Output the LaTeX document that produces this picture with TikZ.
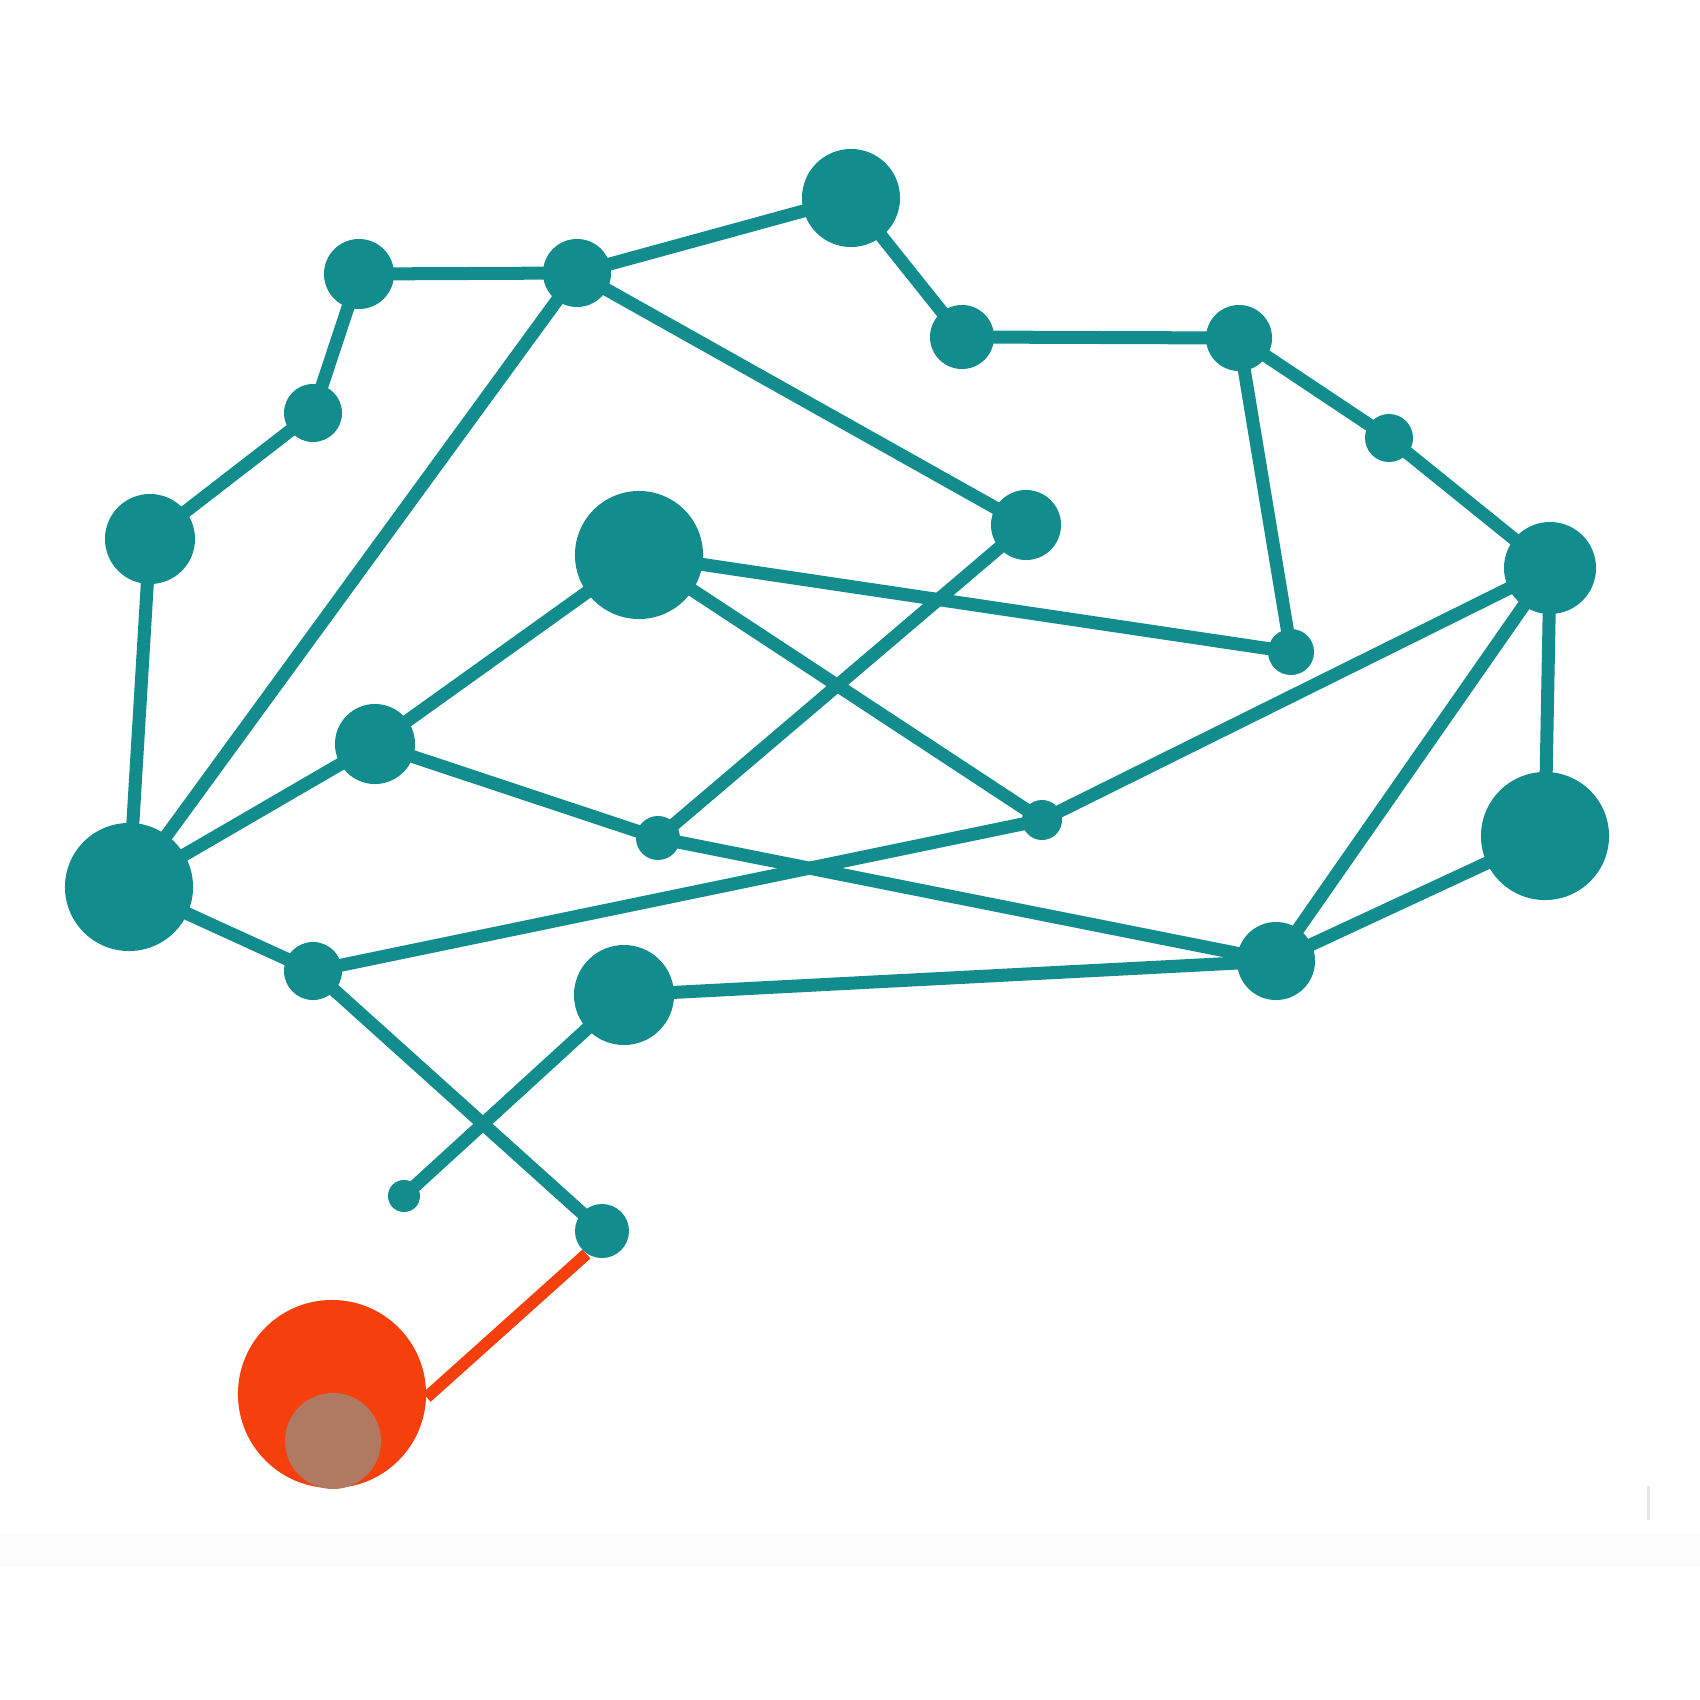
\documentclass[tikz,border=0pt]{standalone}
\usepackage{xcolor}
\usepackage{tikz}
\definecolor{brainteal}{HTML}{128C8C}
\definecolor{sparkred}{HTML}{F5400E}
\definecolor{sparkcore}{HTML}{B07A62}
\tikzset{every picture/.style={x=0.01cm,y=-0.01cm,every node/.style={circle, fill=brainteal, inner sep=0pt}}}

\begin{document}
\begin{tikzpicture}
        \useasboundingbox (0,0) rectangle (1700,1700);
        \fill[black!1] (0,1533) rectangle (1700,1567);
        \fill[black!10] (1647,1486) rectangle (1650,1520);

        \node[minimum size=0.98cm] (n1) at (851, 198) {};
        \node[minimum size=0.70cm] (n2) at (359, 274) {};
        \node[minimum size=0.68cm] (n3) at (577, 273) {};
        \node[minimum size=0.64cm] (n4) at (962, 337) {};
        \node[minimum size=0.66cm] (n5) at (1239, 338) {};
        \node[minimum size=0.58cm] (n6) at (313, 413) {};
        \node[minimum size=0.48cm] (n7) at (1389, 438) {};
        \node[minimum size=0.90cm] (n8) at (150, 539) {};
        \node[minimum size=1.28cm] (n9) at (639, 555) {};
        \node[minimum size=0.70cm] (n10) at (1026, 525) {};
        \node[minimum size=0.92cm] (n11) at (1550, 568) {};
        \node[minimum size=0.46cm] (n12) at (1291, 652) {};
        \node[minimum size=0.80cm] (n13) at (375, 744) {};
        \node[minimum size=0.44cm] (n14) at (658, 838) {};
        \node[minimum size=0.40cm] (n15) at (1042, 820) {};
        \node[minimum size=1.28cm] (n16) at (1545, 836) {};
        \node[minimum size=1.28cm] (n17) at (129, 887) {};
        \node[minimum size=0.58cm] (n18) at (313, 971) {};
        \node[minimum size=1.00cm] (n19) at (624, 995) {};
        \node[minimum size=0.78cm] (n20) at (1276, 961) {};
        \node[minimum size=0.32cm] (n21) at (404, 1196) {};
        \node[minimum size=0.54cm] (n22) at (602, 1231) {};

        \foreach \from/\to in {
          n2/n3, n3/n1, n1/n4, n4/n5,
          n5/n7, n7/n11, n5/n12,
          n2/n6, n6/n8, n8/n17,
          n3/n17, n3/n10, n10/n14,
          n9/n12, n9/n15, n9/n13,
          n13/n17, n13/n14, n14/n20,
          n11/n15, n15/n18, n11/n20, n11/n16, n16/n20,
          n17/n18, n18/n22, n19/n20, n19/n21}
        \draw[brainteal, line width=3.7pt] (\from.center) -- (\to.center);

        \node[fill=sparkred, minimum size=1.88cm] (n23) at (332, 1394) {};
        \node[fill=sparkcore, minimum size=0.96cm] (n24) at (333, 1441) {};
        \draw[sparkred, line width=3.4pt] (n22.236) -- (n23.-2);
      \end{tikzpicture}
\end{document}
